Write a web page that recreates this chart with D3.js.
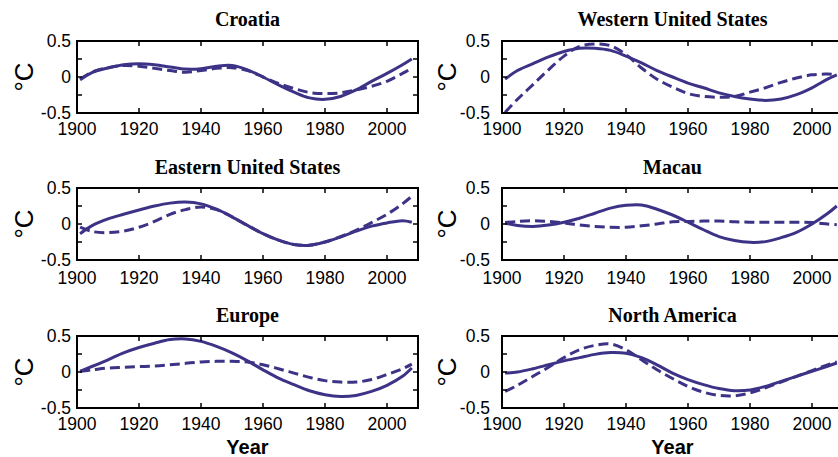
<!DOCTYPE html>
<html>
<head>
<meta charset="utf-8">
<script src="https://cdn.jsdelivr.net/npm/d3@7/dist/d3.min.js"></script>
<style>
  html, body { margin: 0; padding: 0; background: #fff; }
  svg { display: block; }
</style>
</head>
<body>
<svg id="chart" width="838" height="457"></svg>
<script>
// Sample years shared by every curve
const years = [1901, 1905, 1910, 1915, 1920, 1925, 1930, 1935, 1940, 1945, 1950,
               1955, 1960, 1965, 1970, 1975, 1980, 1985, 1990, 1995, 2000, 2005, 2008];

// Temperature anomalies (°C), solid and dashed curve per region
const croatiaSolid  = [-0.04, 0.065, 0.125, 0.17, 0.185, 0.17, 0.14, 0.11, 0.115, 0.15, 0.16,
                       0.10, 0.0, -0.11, -0.21, -0.29, -0.31, -0.27, -0.18, -0.06, 0.05, 0.17, 0.25];
const croatiaDashed = [-0.03, 0.07, 0.13, 0.16, 0.15, 0.12, 0.09, 0.065, 0.09, 0.12, 0.13,
                       0.09, 0.0, -0.09, -0.16, -0.215, -0.23, -0.22, -0.18, -0.13, -0.06, 0.05, 0.12];

const westSolid  = [-0.03, 0.09, 0.185, 0.28, 0.355, 0.40, 0.40, 0.37, 0.29, 0.195, 0.09,
                    0.0, -0.085, -0.15, -0.22, -0.27, -0.305, -0.325, -0.305, -0.245, -0.15, -0.03, 0.03];
const westDashed = [-0.49, -0.31, -0.105, 0.10, 0.29, 0.425, 0.46, 0.435, 0.31, 0.125, -0.03,
                    -0.14, -0.23, -0.27, -0.28, -0.27, -0.21, -0.15, -0.075, -0.015, 0.03, 0.04, 0.03];

const eastSolid  = [-0.135, -0.02, 0.07, 0.135, 0.195, 0.25, 0.29, 0.305, 0.28, 0.205, 0.10,
                    -0.02, -0.135, -0.225, -0.285, -0.295, -0.25, -0.18, -0.10, -0.03, 0.015, 0.045, 0.025];
const eastDashed = [-0.045, -0.105, -0.12, -0.10, -0.045, 0.035, 0.135, 0.20, 0.235, 0.20, 0.10,
                    -0.02, -0.135, -0.225, -0.285, -0.295, -0.25, -0.175, -0.09, 0.02, 0.135, 0.28, 0.385];

const macauSolid  = [0.015, -0.02, -0.035, -0.015, 0.025, 0.08, 0.15, 0.22, 0.26, 0.265, 0.205,
                     0.125, 0.025, -0.08, -0.175, -0.23, -0.255, -0.245, -0.19, -0.115, 0.0, 0.145, 0.25];
const macauDashed = [0.02, 0.035, 0.045, 0.035, 0.015, -0.015, -0.035, -0.045, -0.045, -0.025, 0.0,
                     0.03, 0.035, 0.04, 0.04, 0.03, 0.025, 0.025, 0.025, 0.025, 0.02, 0.0, -0.01];

const europeSolid  = [0.01, 0.08, 0.17, 0.265, 0.34, 0.40, 0.45, 0.46, 0.425, 0.355, 0.265,
                      0.155, 0.03, -0.085, -0.175, -0.26, -0.315, -0.34, -0.325, -0.27, -0.185, -0.06, 0.055];
const europeDashed = [0.01, 0.03, 0.055, 0.065, 0.075, 0.083, 0.10, 0.12, 0.14, 0.148, 0.148,
                      0.14, 0.10, 0.045, -0.015, -0.075, -0.12, -0.14, -0.14, -0.105, -0.035, 0.045, 0.11];

const naSolid  = [-0.015, 0.0, 0.045, 0.10, 0.155, 0.20, 0.245, 0.27, 0.26, 0.20, 0.10,
                  -0.015, -0.105, -0.175, -0.23, -0.26, -0.25, -0.20, -0.13, -0.06, 0.01, 0.08, 0.125];
const naDashed = [-0.27, -0.185, -0.06, 0.065, 0.20, 0.31, 0.37, 0.39, 0.31, 0.17, 0.03,
                  -0.09, -0.20, -0.28, -0.325, -0.33, -0.29, -0.22, -0.14, -0.06, 0.02, 0.10, 0.14];

const regions = ["Croatia", "Western United States", "Eastern United States", "Macau", "Europe", "North America"];
const solidSeries  = [croatiaSolid, westSolid, eastSolid, macauSolid, europeSolid, naSolid];
const dashedSeries = [croatiaDashed, westDashed, eastDashed, macauDashed, europeDashed, naDashed];

const xTicks = [1900, 1920, 1940, 1960, 1980, 2000];
const yTicks = [-0.5, -0.25, 0, 0.25, 0.5];
const yTickLabels = [-0.5, 0, 0.5];

// Panel geometry: two columns, three rows
const cols = [
  { x0: 77,  x1: 418, labelGap: 6,  unitX: 33 },
  { x0: 502, x1: 843, labelGap: 12, unitX: 456 }
];
const rows = [
  { y0: 41,  y1: 113, titleY: 26,  tickY: 135 },
  { y0: 188, y1: 260, titleY: 174, tickY: 284 },
  { y0: 336, y1: 408, titleY: 322, tickY: 430 }
];

const ink = "#3c3386";
const svg = d3.select("#chart");

regions.forEach((name, i) => {
  const c = cols[i % 2], r = rows[Math.floor(i / 2)];
  const x = d3.scaleLinear().domain([1900, 2010]).range([c.x0, c.x1]);
  const y = d3.scaleLinear().domain([-0.5, 0.5]).range([r.y1, r.y0]);
  const g = svg.append("g");

  // curves
  const line = d3.line()
    .x((d, k) => x(years[k]))
    .y(d => y(d))
    .curve(d3.curveCatmullRom.alpha(0.5));

  g.append("path")
    .attr("d", line(dashedSeries[i]))
    .attr("fill", "none").attr("stroke", ink)
    .attr("stroke-width", 3).attr("stroke-dasharray", "10,5");
  g.append("path")
    .attr("d", line(solidSeries[i]))
    .attr("fill", "none").attr("stroke", ink)
    .attr("stroke-width", 3);

  // inward ticks on all four sides
  const tickLen = 5;
  const tickStyle = s => s.attr("stroke", "#000").attr("stroke-width", 1.5);
  xTicks.slice(1).forEach(t => {
    g.append("line").attr("x1", x(t)).attr("x2", x(t)).attr("y1", r.y1).attr("y2", r.y1 - tickLen).call(tickStyle);
    g.append("line").attr("x1", x(t)).attr("x2", x(t)).attr("y1", r.y0).attr("y2", r.y0 + tickLen).call(tickStyle);
  });
  yTicks.forEach(t => {
    g.append("line").attr("x1", c.x0).attr("x2", c.x0 + tickLen).attr("y1", y(t)).attr("y2", y(t)).call(tickStyle);
    g.append("line").attr("x1", c.x1).attr("x2", c.x1 - tickLen).attr("y1", y(t)).attr("y2", y(t)).call(tickStyle);
  });

  // frame
  g.append("rect")
    .attr("x", c.x0).attr("y", r.y0)
    .attr("width", c.x1 - c.x0).attr("height", r.y1 - r.y0)
    .attr("fill", "none").attr("stroke", "#000").attr("stroke-width", 2);

  // tick labels
  g.selectAll(".xl").data(xTicks).enter().append("text")
    .attr("x", d => x(d)).attr("y", r.tickY)
    .attr("text-anchor", "middle")
    .style("font-family", "Arial, 'Liberation Sans', sans-serif")
    .style("font-size", "17.5px")
    .text(d => d);
  g.selectAll(".yl").data(yTickLabels).enter().append("text")
    .attr("x", c.x0 - c.labelGap).attr("y", d => y(d))
    .attr("dy", "0.35em")
    .attr("text-anchor", "end")
    .style("font-family", "Arial, 'Liberation Sans', sans-serif")
    .style("font-size", "17.5px")
    .text(d => d);

  // unit label
  g.append("text")
    .attr("transform", `translate(${c.unitX},${(r.y0 + r.y1) / 2}) rotate(-90)`)
    .attr("text-anchor", "middle")
    .style("font-family", "Arial, 'Liberation Sans', sans-serif")
    .style("font-size", "26px")
    .text("°C");

  // panel title
  g.append("text")
    .attr("x", (c.x0 + c.x1) / 2).attr("y", r.titleY)
    .attr("text-anchor", "middle")
    .style("font-family", "'Times New Roman', 'Liberation Serif', serif")
    .style("font-weight", "bold")
    .style("font-size", "20px")
    .text(name);

  // x-axis title on the bottom row
  if (Math.floor(i / 2) === 2) {
    g.append("text")
      .attr("x", (c.x0 + c.x1) / 2).attr("y", 454)
      .attr("text-anchor", "middle")
      .style("font-family", "Arial, 'Liberation Sans', sans-serif")
      .style("font-weight", "bold")
      .style("font-size", "20px")
      .text("Year");
  }
});
</script>
</body>
</html>
